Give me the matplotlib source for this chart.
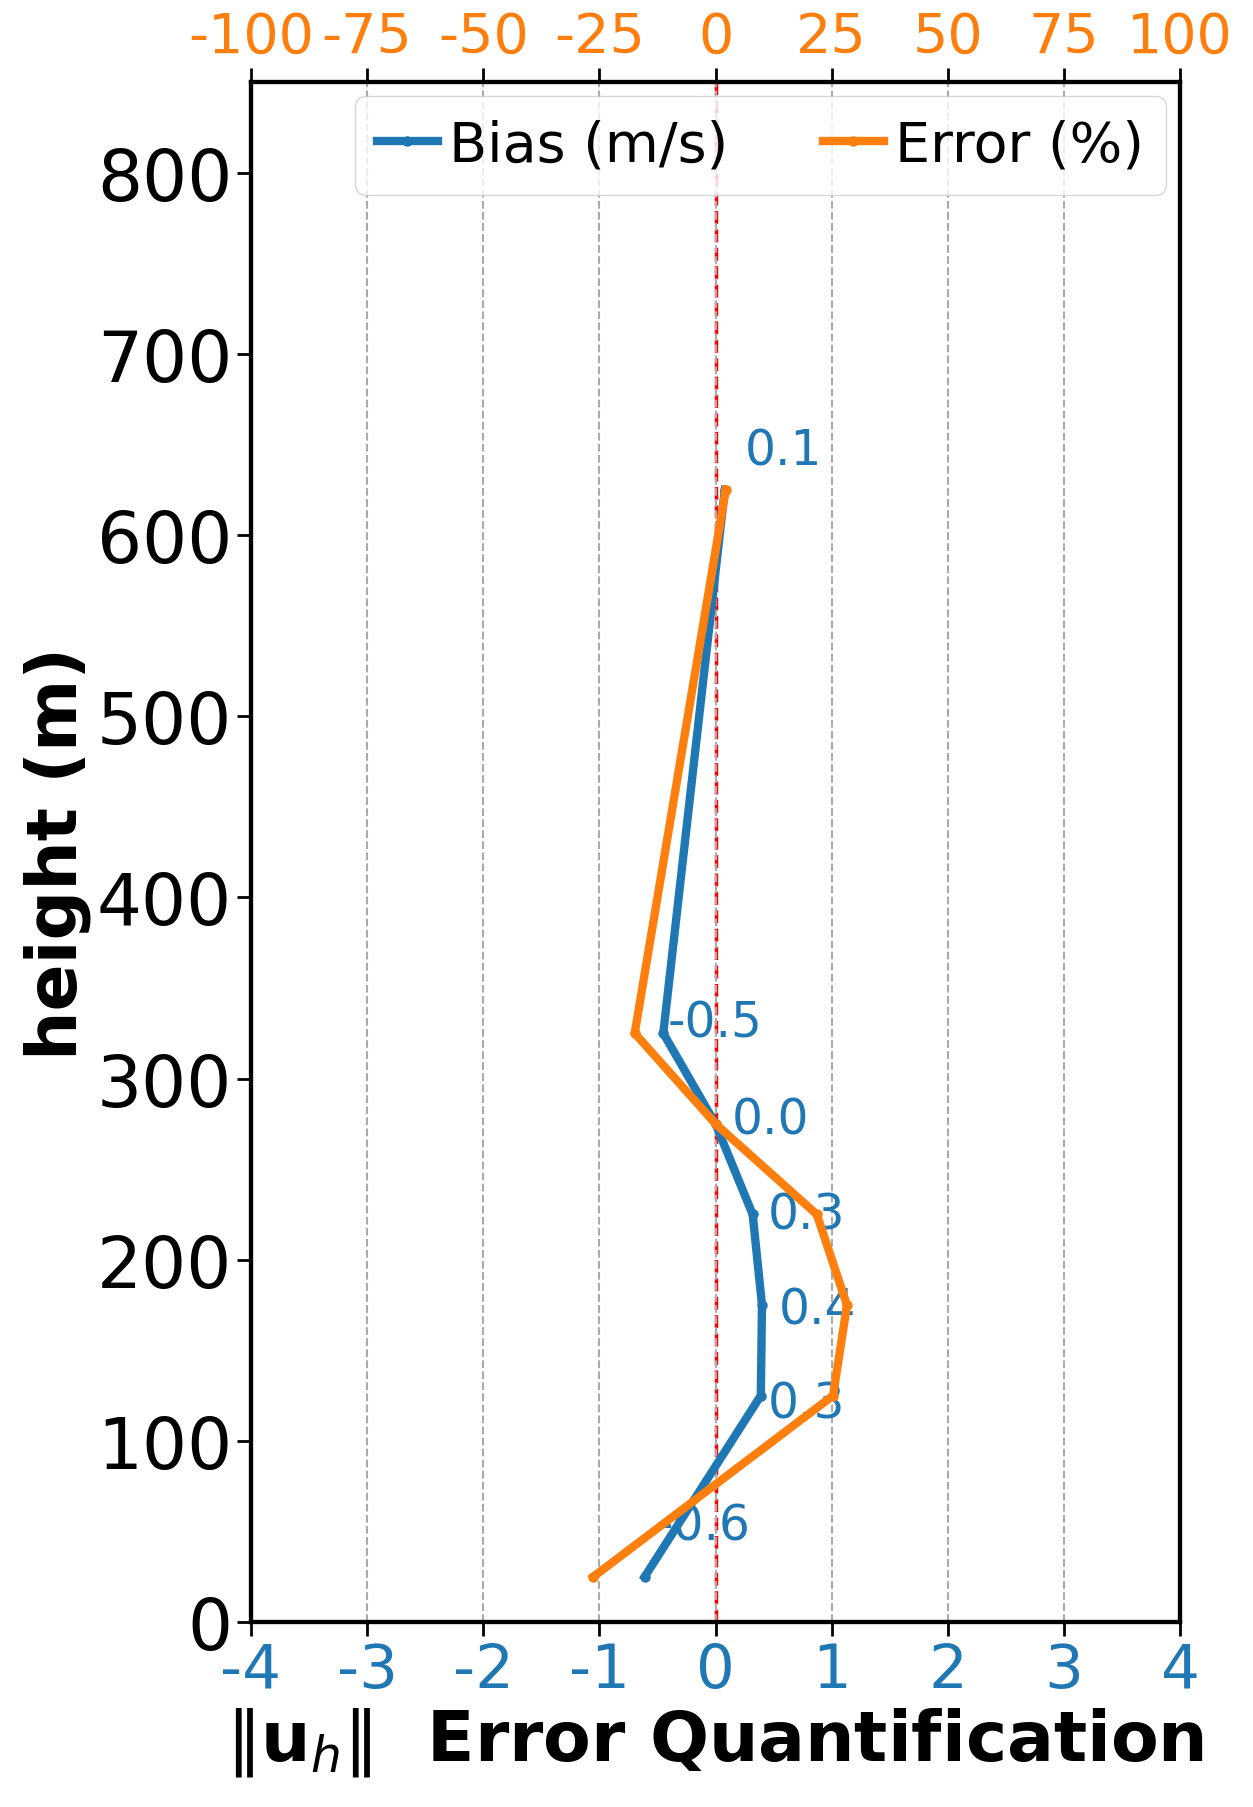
import matplotlib.pyplot as plt
import numpy as np

plt.rcParams['axes.unicode_minus'] = False

# data
heights = [25, 125, 175, 225, 275, 325, 625]
bias = [-0.61, 0.39, 0.40, 0.32, 0.0, -0.45, 0.08]
error_pct = [-26.3, 25.3, 28.3, 21.8, 0.0, -17.4, 2.2]
bias_labels = ['-0.6', '0.3', '0.4', '0.3', '0.0', '-0.5', '0.1']

bottom_ticks = [-4, -3, -2, -1, 0, 1, 2, 3, 4]
top_ticks = [-100, -75, -50, -25, 0, 25, 50, 75, 100]
y_ticks = [0, 100, 200, 300, 400, 500, 600, 700, 800]

# label offsets in points (dx, dy)
label_offsets = [(8, 37), (5, -6), (12, -3), (11, 0), (12, 3), (3, 8), (14, 28)]

blue = '#1f77b4'
orange = '#ff7f0e'

fig = plt.figure(figsize=(12.53, 18.08), dpi=100)
ax = fig.add_axes([0.2003, 0.1023, 0.7415, 0.8517])

ax.axvline(0, color='red', ls='--', lw=2.5, zorder=1)
ax.plot(bias, heights, color=blue, lw=6, marker='.', ms=13, label='Bias (m/s)', zorder=3)

for x, y, t, off in zip(bias, heights, bias_labels, label_offsets):
    ax.annotate(t, (x, y), xytext=off, textcoords='offset points',
                color=blue, fontsize=35, va='center', ha='left')

ax.set_xlim(-4, 4)
ax.set_ylim(0, 850)
ax.set_xticks(bottom_ticks)
ax.set_xticklabels([str(t) for t in bottom_ticks])
ax.set_yticks(y_ticks)
ax.tick_params(axis='x', labelsize=44, colors=blue, length=10, width=2)
ax.tick_params(axis='x', color='black')
ax.tick_params(axis='y', labelsize=51, length=10, width=2)
ax.grid(axis='x', color='#aaaaaa', ls='--', lw=1.5, zorder=2)
ax.set_xlabel(r'$\Vert \mathbf{u}_h \Vert$  Error Quantification', fontsize=50, fontweight='bold')
ax.set_ylabel('height (m)', fontsize=50, fontweight='bold')
for s in ax.spines.values():
    s.set_linewidth(3)

ax2 = ax.twiny()
ax2.plot(error_pct, heights, color=orange, lw=6, marker='.', ms=13, label='Error (%)')
ax2.set_xlim(-100, 100)
ax2.set_xticks(top_ticks)
ax2.set_xticklabels([str(t) for t in top_ticks])
ax2.tick_params(axis='x', labelsize=40, labelcolor=orange, length=10, width=2)
for s in ax2.spines.values():
    s.set_linewidth(3)

h1, l1 = ax.get_legend_handles_labels()
h2, l2 = ax2.get_legend_handles_labels()
ax2.legend(h1 + h2, l1 + l2, loc='upper right', ncol=2, fontsize=40,
           handlelength=1.1, handletextpad=0.2, columnspacing=1.7,
           borderaxespad=0.25, framealpha=0.8)

fig.savefig('out.png', dpi=100)
